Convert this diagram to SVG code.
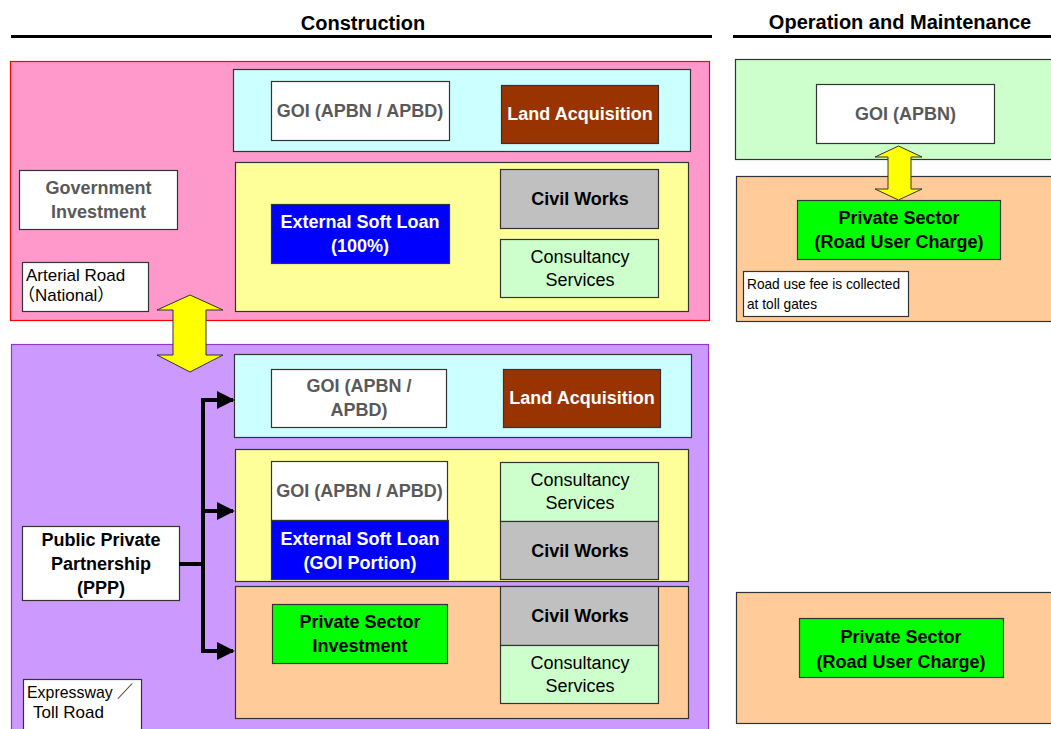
<svg xmlns="http://www.w3.org/2000/svg" width="1051" height="729" viewBox="0 0 1051 729">
<defs>
<style>
text{font-family:"Liberation Sans",Arial,sans-serif;font-size:18px;text-anchor:middle}
.b{font-weight:bold}
.g{fill:#595959}
.w{fill:#ffffff}
.k{fill:#000000}
.box{stroke:#333333;stroke-width:1.2}
.small{font-family:"Liberation Sans","Noto Sans CJK JP",sans-serif;font-size:17px;text-anchor:start}
.yarrow{fill:#FFFF00;stroke:#333333;stroke-width:1}
.conn{fill:none;stroke:#000000;stroke-width:4}
</style>
<marker id="ah" viewBox="0 0 10 10" refX="9" refY="5" markerWidth="4.5" markerHeight="4.5" markerUnits="strokeWidth" orient="auto">
<path d="M0,0 L10,5 L0,10 z" fill="#000000"/>
</marker>
</defs>
<rect x="0" y="0" width="1051" height="729" fill="#ffffff"/>

<g id="headers">
<text class="b k" x="363" y="30" style="font-size:20px">Construction</text>
<rect x="11" y="35" width="701" height="3" fill="#000000"/>
<text class="b k" x="900" y="29" style="font-size:20px">Operation and Maintenance</text>
<rect x="733" y="35" width="318" height="3" fill="#000000"/>
</g>

<g id="arterial-group">
<rect x="10.5" y="61.5" width="699" height="259" fill="#FF99CC" stroke="#FF0000" stroke-width="1.2"/>
</g>
<g id="arterial-cyan"><rect class="box" x="233.5" y="69.5" width="457" height="82" fill="#CCFFFF"/></g>
<g id="arterial-goi"><rect class="box" x="271.5" y="81.5" width="178" height="59" fill="#ffffff"/>
<text class="b g" x="360" y="117">GOI (APBN / APBD)</text></g>
<g id="arterial-land"><rect class="box" x="501.5" y="85.5" width="157" height="58" fill="#993300"/>
<text class="b w" x="580" y="120">Land Acquisition</text></g>
<g id="arterial-yellow"><rect class="box" x="235.5" y="162.5" width="453" height="149" fill="#FFFF99"/></g>
<g id="arterial-loan"><rect class="box" x="271.5" y="204.5" width="178" height="59" fill="#0000FF"/>
<text class="b w" x="360" y="228">External Soft Loan</text>
<text class="b w" x="360" y="252">(100%)</text></g>
<g id="arterial-civil"><rect class="box" x="500.5" y="169.5" width="158" height="59" fill="#C0C0C0"/>
<text class="b k" x="580" y="205">Civil Works</text></g>
<g id="arterial-consult"><rect class="box" x="500.5" y="239.5" width="158" height="58" fill="#CCFFCC"/>
<text class="k" x="580" y="263">Consultancy</text>
<text class="k" x="580" y="286">Services</text></g>
<g id="gov-investment"><rect class="box" x="19.5" y="170.5" width="158" height="59" fill="#ffffff"/>
<text class="b g" x="98.5" y="194">Government</text>
<text class="b g" x="98.5" y="218">Investment</text></g>
<g id="arterial-label"><rect class="box" x="22.5" y="262.5" width="126" height="49" fill="#ffffff"/>
<text class="small k" x="26" y="281">Arterial Road</text>
<text class="small k" x="18" y="301">（National）</text></g>

<g id="ppp-group">
<rect x="11.5" y="344.5" width="697" height="390" fill="#CC99FF" stroke="#9933CC" stroke-width="1.2"/>
</g>
<g id="ppp-cyan"><rect class="box" x="234.5" y="354.5" width="457" height="83" fill="#CCFFFF"/></g>
<g id="ppp-goi1"><rect class="box" x="271.5" y="369.5" width="175" height="58" fill="#ffffff"/>
<text class="b g" x="359" y="392">GOI (APBN /</text>
<text class="b g" x="359" y="416">APBD)</text></g>
<g id="ppp-land"><rect class="box" x="503.5" y="369.5" width="157" height="58" fill="#993300"/>
<text class="b w" x="582" y="404">Land Acquisition</text></g>
<g id="ppp-yellow"><rect class="box" x="235.5" y="449.5" width="453" height="132" fill="#FFFF99"/></g>
<g id="ppp-goi2"><rect class="box" x="271.5" y="461.5" width="176" height="59" fill="#ffffff"/>
<text class="b g" x="359.5" y="497">GOI (APBN / APBD)</text></g>
<g id="ppp-loan"><rect class="box" x="271.5" y="520.5" width="177" height="59" fill="#0000FF"/>
<text class="b w" x="360" y="545">External Soft Loan</text>
<text class="b w" x="360" y="569">(GOI Portion)</text></g>
<g id="ppp-consult1"><rect class="box" x="500.5" y="462.5" width="158" height="59" fill="#CCFFCC"/>
<text class="k" x="580" y="486">Consultancy</text>
<text class="k" x="580" y="509">Services</text></g>
<g id="ppp-civil1"><rect class="box" x="500.5" y="521.5" width="158" height="58" fill="#C0C0C0"/>
<text class="b k" x="580" y="557">Civil Works</text></g>
<g id="ppp-orange"><rect class="box" x="235.5" y="586.5" width="453" height="132" fill="#FFCC99"/></g>
<g id="ppp-private"><rect class="box" x="272.5" y="604.5" width="175" height="59" fill="#00FF00"/>
<text class="b k" x="360" y="628">Private Sector</text>
<text class="b k" x="360" y="652">Investment</text></g>
<g id="ppp-civil2"><rect class="box" x="500.5" y="586.5" width="158" height="59" fill="#C0C0C0"/>
<text class="b k" x="580" y="622">Civil Works</text></g>
<g id="ppp-consult2"><rect class="box" x="500.5" y="645.5" width="158" height="58" fill="#CCFFCC"/>
<text class="k" x="580" y="669">Consultancy</text>
<text class="k" x="580" y="692">Services</text></g>
<g id="ppp-node"><rect class="box" x="22.5" y="526.5" width="157" height="74" fill="#ffffff"/>
<text class="b k" x="101" y="546">Public Private</text>
<text class="b k" x="101" y="570">Partnership</text>
<text class="b k" x="101" y="594">(PPP)</text></g>
<g id="ppp-label"><rect class="box" x="23.5" y="679.5" width="118" height="52" fill="#ffffff"/>
<text class="small k" x="27" y="698" textLength="106" lengthAdjust="spacingAndGlyphs">Expressway ／</text>
<text class="small k" x="33" y="718">Toll Road</text></g>

<g id="om-goi-group"><rect class="box" x="735.5" y="59.5" width="320" height="100" fill="#CCFFCC"/></g>
<g id="om-goi"><rect class="box" x="816.5" y="84.5" width="178" height="59" fill="#ffffff"/>
<text class="b g" x="905.5" y="120">GOI (APBN)</text></g>
<g id="om-ppp-group"><rect class="box" x="736.5" y="176.5" width="320" height="145" fill="#FFCC99"/></g>
<g id="om-private1"><rect class="box" x="797.5" y="200.5" width="203" height="59" fill="#00FF00"/>
<text class="b k" x="899" y="224">Private Sector</text>
<text class="b k" x="899" y="248">(Road User Charge)</text></g>
<g id="om-note"><rect class="box" x="743.5" y="271.5" width="165" height="45" fill="#ffffff"/>
<text class="small k" x="747" y="289" style="font-size:15px" textLength="153" lengthAdjust="spacingAndGlyphs">Road use fee is collected</text>
<text class="small k" x="747" y="309" style="font-size:15px" textLength="70" lengthAdjust="spacingAndGlyphs">at toll gates</text></g>
<g id="om-expressway-group"><rect class="box" x="736.5" y="592.5" width="320" height="131" fill="#FFCC99"/></g>
<g id="om-private2"><rect class="box" x="799.5" y="618.5" width="204" height="59" fill="#00FF00"/>
<text class="b k" x="901" y="643">Private Sector</text>
<text class="b k" x="901" y="668">(Road User Charge)</text></g>

<g id="connectors">
<path class="yarrow" d="M190,295 L223,310 L206,310 L206,355 L223,355 L190,372 L157,355 L173,355 L173,310 L157,310 Z"/>
<path class="yarrow" d="M898.5,146 L922,157 L911,157 L911,189 L922,189 L898.5,200 L875,189 L888,189 L888,157 L875,157 Z"/>
<path class="conn" d="M179,564 L203,564"/>
<path class="conn" d="M203,400 L203,651"/>
<path class="conn" d="M201,400 L233,400" marker-end="url(#ah)"/>
<path class="conn" d="M203,511 L233,511" marker-end="url(#ah)"/>
<path class="conn" d="M201,651 L233,651" marker-end="url(#ah)"/>
</g>
</svg>
